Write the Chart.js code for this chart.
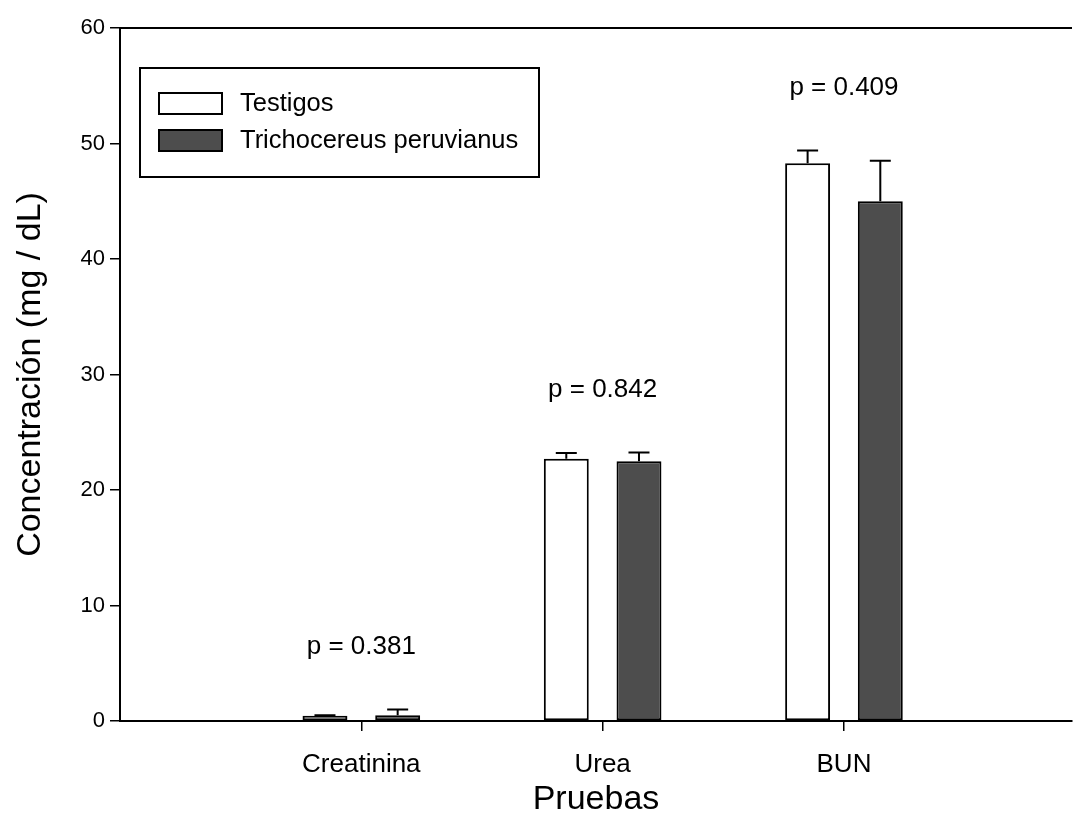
<!DOCTYPE html>
<html>
<head>
<meta charset="utf-8">
<script src="https://cdn.jsdelivr.net/npm/chart.js@4.4.1/dist/chart.umd.min.js"></script>
<style>
  html, body { margin: 0; padding: 0; background: #fff; }
  #wrap { width: 1073px; height: 836px; }
</style>
</head>
<body>
<div id="wrap"><canvas id="chart"></canvas></div>
<script>
// ---- data ----
const categories = ['Creatinina', 'Urea', 'BUN'];
const seriesNames = ['Testigos', 'Trichocereus peruvianus'];
const testigos = [0.45, 22.7, 48.3];
const testigosErr = [0.05, 0.5, 1.1];
const trichocereus = [0.5, 22.5, 45.0];
const trichocereusErr = [0.5, 0.75, 3.5];
const pValues = ['p = 0.381', 'p = 0.842', 'p = 0.409'];
const yTicks = [0, 10, 20, 30, 40, 50, 60];

const FONT = '"Liberation Sans", Arial, Helvetica, sans-serif';
const errors = [testigosErr, trichocereusErr];

// upper error bars with a short cap
const errorBars = {
    id: 'errorBars',
    afterDatasetsDraw(chart) {
        const ctx = chart.ctx;
        const y = chart.scales.y;
        ctx.save();
        ctx.strokeStyle = '#000';
        ctx.lineWidth = 2;
        chart.data.datasets.forEach(function(ds, i) {
            const meta = chart.getDatasetMeta(i);
            meta.data.forEach(function(bar, j) {
                const top = y.getPixelForValue(ds.data[j].y + errors[i][j]);
                ctx.beginPath();
                ctx.moveTo(bar.x, bar.y);
                ctx.lineTo(bar.x, top);
                ctx.moveTo(bar.x - 10.5, top);
                ctx.lineTo(bar.x + 10.5, top);
                ctx.stroke();
            });
        });
        ctx.restore();
    }
};

// p-value labels above each group, top frame line and boxed legend
const extras = {
    id: 'extras',
    afterDraw(chart) {
        const ctx = chart.ctx;
        const area = chart.chartArea;
        const x = chart.scales.x;
        const y = chart.scales.y;
        ctx.save();

        ctx.strokeStyle = '#000';
        ctx.lineWidth = 2;
        ctx.beginPath();
        ctx.moveTo(area.left, area.top);
        ctx.lineTo(area.right, area.top);
        ctx.stroke();

        ctx.fillStyle = '#000';
        ctx.font = '26px ' + FONT;
        ctx.textAlign = 'center';
        ctx.textBaseline = 'middle';
        categories.forEach(function(c, i) {
            const hi = Math.max(testigos[i] + testigosErr[i], trichocereus[i] + trichocereusErr[i]);
            ctx.fillText(pValues[i], x.getPixelForValue(i), y.getPixelForValue(hi) - 63);
        });

        const bx = area.left + 20, by = area.top + 40;
        ctx.lineWidth = 2;
        ctx.strokeRect(bx, by, 399, 109);
        ctx.font = '25.5px ' + FONT;
        chart.data.datasets.forEach(function(ds, i) {
            const sy = by + 25 + i * 37;
            ctx.fillStyle = ds.backgroundColor;
            ctx.fillRect(bx + 19, sy, 63, 21);
            ctx.strokeRect(bx + 19, sy, 63, 21);
            ctx.fillStyle = '#000';
            ctx.textAlign = 'left';
            ctx.fillText(ds.label, bx + 100, sy + 11);
        });
        ctx.restore();
    }
};

const makePoints = (vals) => vals.map((v, i) => ({ x: i, y: v }));

new Chart(document.getElementById('chart'), {
    type: 'bar',
    data: {
        datasets: [{
            label: seriesNames[0],
            data: makePoints(testigos),
            backgroundColor: '#ffffff',
            borderColor: '#000000',
            borderWidth: 2,
            borderSkipped: false
        }, {
            label: seriesNames[1],
            data: makePoints(trichocereus),
            backgroundColor: '#4d4d4d',
            borderColor: '#000000',
            borderWidth: 2,
            borderSkipped: false
        }]
    },
    options: {
        responsive: true,
        maintainAspectRatio: false,
        animation: false,
        categoryPercentage: 0.6025,
        barPercentage: 0.618,
        layout: { padding: { top: 28, right: 1, bottom: 0, left: 0 } },
        scales: {
            x: {
                type: 'linear',
                min: -1,
                max: 2.945,
                offset: false,
                afterBuildTicks: function(scale) {
                    scale.ticks = categories.map((c, i) => ({ value: i }));
                },
                afterFit: function(scale) { scale.height = 115; },
                border: { color: '#000', width: 2 },
                grid: { offset: false, drawOnChartArea: false, tickLength: 10, tickColor: '#000', lineWidth: 1.5 },
                ticks: {
                    color: '#000',
                    font: { family: FONT, size: 26 },
                    padding: 18,
                    maxRotation: 0,
                    callback: (v) => categories[v]
                },
                title: {
                    display: true,
                    text: 'Pruebas',
                    color: '#000',
                    font: { family: FONT, size: 34 },
                    padding: { top: 10, bottom: 16 }
                }
            },
            y: {
                min: 0,
                max: 60,
                afterBuildTicks: function(scale) {
                    scale.ticks = yTicks.map((v) => ({ value: v }));
                },
                afterFit: function(scale) { scale.width = 120; },
                border: { color: '#000', width: 2 },
                grid: { drawOnChartArea: false, tickLength: 10, tickColor: '#000', lineWidth: 1.5 },
                ticks: {
                    color: '#000',
                    font: { family: FONT, size: 22 },
                    padding: 5
                },
                title: {
                    display: true,
                    text: 'Concentración (mg / dL)',
                    color: '#000',
                    font: { family: FONT, size: 34 },
                    padding: { top: 10, bottom: 10 }
                }
            }
        },
        plugins: {
            legend: { display: false },
            tooltip: { enabled: false }
        }
    },
    plugins: [errorBars, extras]
});
</script>
</body>
</html>
